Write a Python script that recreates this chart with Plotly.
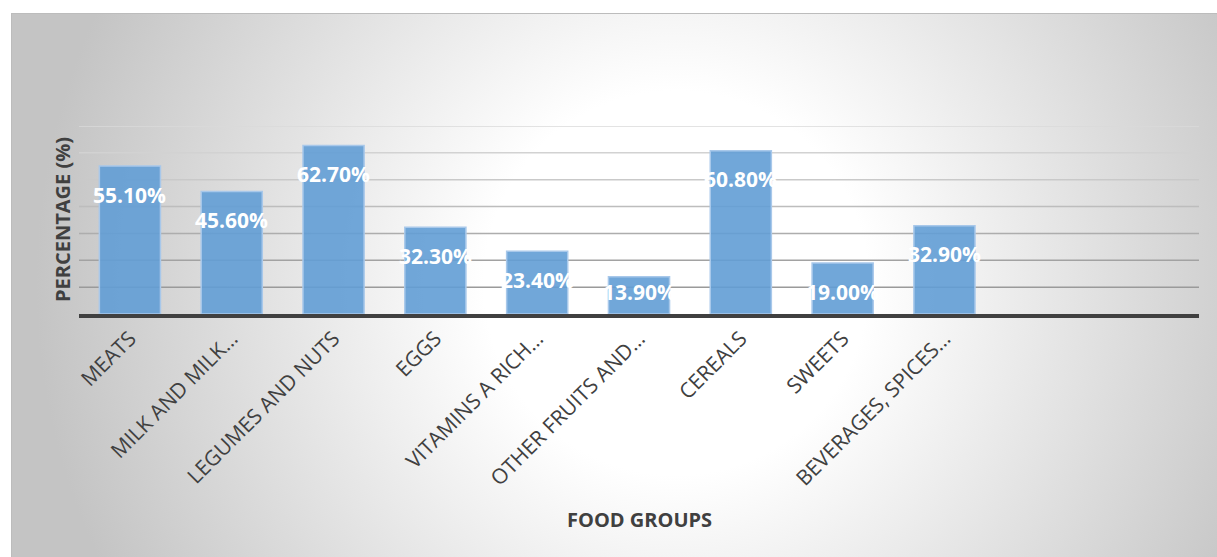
import base64
import plotly.graph_objects as go

# ---- data ----
categories = ["MEATS", "MILK AND MILK…", "LEGUMES AND NUTS", "EGGS", "VITAMINS A RICH…",
              "OTHER FRUITS AND…", "CEREALS", "SWEETS", "BEVERAGES, SPICES…"]
values = [55.1, 45.6, 62.7, 32.3, 23.4, 13.9, 60.8, 19.0, 32.9]
n_slots = 11  # two empty category slots at the end
y_ticks = [10, 20, 30, 40, 50, 60, 70]
grid_colors = ["#9a9a9a", "#a2a2a2", "#adadad", "#bdbdbd", "#c9c9c9", "#d2d2d2", "#dadada"]

FONT = "Open Sans, Noto Sans, sans-serif"
W, H = 1217, 557
ML, MR, MT, MB = 79, 18, 126, 243
PW, PH = W - ML - MR, H - MT - MB

x_idx = list(range(len(categories)))

fig = go.Figure()
fig.add_trace(go.Bar(
    x=x_idx, y=values, width=0.6,
    marker=dict(color="rgba(98,157,213,0.9)", line=dict(color="#a8c8ea", width=1.5)),
    hoverinfo="skip",
))

# data labels (inside end, white bold)
for xi, v in zip(x_idx, values):
    fig.add_annotation(x=xi, y=max(v - 10.7, 8.2), text=f"<b>{v:.2f}%</b>", showarrow=False,
                       font=dict(family=FONT, size=21, color="white"), xanchor="center",
                       yanchor="middle")

# gridlines
for t, c in zip(y_ticks, grid_colors):
    fig.add_shape(type="line", xref="paper", yref="y", x0=0, x1=1, y0=t, y1=t,
                  line=dict(color=c, width=1.5), layer="below")

# background gradient frame
fx0, fy0, fx1, fy1 = 11, 13, W, H
fw, fh = fx1 - fx0, fy1 - fy0
svg = (f"<svg xmlns='http://www.w3.org/2000/svg' width='{fw}' height='{fh}' viewBox='0 0 {fw} {fh}' "
       f"preserveAspectRatio='none'><defs><radialGradient id='g' gradientUnits='userSpaceOnUse' "
       f"cx='665' cy='270' r='640'><stop offset='0' stop-color='#ffffff'/>"
       f"<stop offset='0.3' stop-color='#ffffff'/><stop offset='1' stop-color='#c4c4c4'/>"
       f"</radialGradient></defs><rect width='{fw}' height='{fh}' fill='url(#g)'/>"
       f"<rect x='0.5' y='0.5' width='{fw}' height='{fh}' fill='none' stroke='#bcbcbc'/></svg>")
src = "data:image/svg+xml;base64," + base64.b64encode(svg.encode()).decode()
fig.add_layout_image(source=src, xref="paper", yref="paper",
                     x=(fx0 - ML) / PW, y=(H - MB - fy0) / PH,
                     sizex=fw / PW, sizey=fh / PH, xanchor="left", yanchor="top",
                     sizing="stretch", layer="below")

# axis titles
fig.add_annotation(text="<b>FOOD GROUPS</b>", xref="paper", yref="paper", x=0.5,
                   y=(H - MB - 519) / PH, showarrow=False, xanchor="center", yanchor="middle",
                   font=dict(family=FONT, size=20, color="#404040"))
fig.add_annotation(text="<b>PERCENTAGE (%)</b>", xref="paper", yref="paper",
                   x=(62 - ML) / PW, y=0.5, showarrow=False, textangle=-90,
                   xanchor="center", yanchor="middle",
                   font=dict(family=FONT, size=20, color="#404040"))

fig.update_layout(
    width=W, height=H, margin=dict(l=ML, r=MR, t=MT, b=MB),
    paper_bgcolor="white", plot_bgcolor="rgba(0,0,0,0)",
    showlegend=False, bargap=0.4,
    xaxis=dict(range=[-0.5, n_slots - 0.5], tickmode="array", tickvals=x_idx,
               ticktext=categories, tickangle=-45, showgrid=False, zeroline=False,
               showline=True, linecolor="#404040", linewidth=4, ticks="",
               tickfont=dict(family=FONT, size=21, color="#404040")),
    yaxis=dict(range=[0, 70], showgrid=False, zeroline=False, showticklabels=False,
               ticks="", showline=False, fixedrange=True),
)

fig.write_html("out.html")
